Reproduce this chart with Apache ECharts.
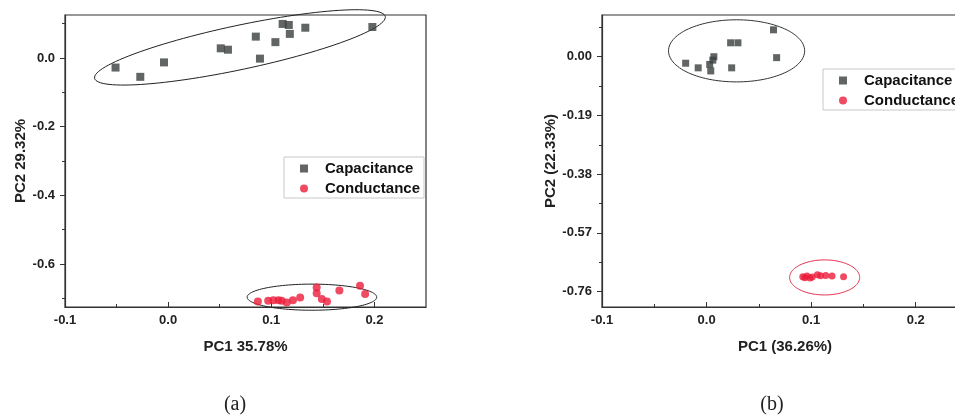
<!DOCTYPE html>
<html>
<head>
<meta charset="utf-8">
<script src="https://cdn.jsdelivr.net/npm/echarts@6/dist/echarts.min.js"></script>
<style>
  html, body { margin: 0; padding: 0; background: #fff; }
  #chart { width: 955px; height: 415px; }
</style>
</head>
<body>
<div id="chart"></div>
<script>
// panel (a) - PCA scores
const capAx = [-0.051, -0.027, -0.004, 0.051, 0.058, 0.085, 0.089, 0.104, 0.111, 0.117, 0.118, 0.133, 0.198];
const capAy = [-0.028, -0.055, -0.013, 0.028, 0.024, 0.062, -0.002, 0.046, 0.099, 0.096, 0.070, 0.088, 0.090];
const conAx = [0.087, 0.097, 0.102, 0.107, 0.110, 0.115, 0.121, 0.128, 0.144, 0.144, 0.149, 0.154, 0.166, 0.186, 0.191];
const conAy = [-0.709, -0.707, -0.705, -0.705, -0.707, -0.712, -0.705, -0.697, -0.668, -0.685, -0.702, -0.709, -0.677, -0.663, -0.687];

// panel (b)
const capBx = [-0.020, -0.008, 0.004, 0.003, 0.006, 0.007, 0.024, 0.023, 0.030, 0.064, 0.067];
const capBy = [-0.021, -0.036, -0.046, -0.025, -0.011, 0.000, -0.036, 0.045, 0.045, 0.087, -0.003];
const conBx = [0.092, 0.094, 0.096, 0.099, 0.101, 0.106, 0.109, 0.114, 0.120, 0.131];
const conBy = [-0.712, -0.715, -0.710, -0.716, -0.713, -0.706, -0.709, -0.708, -0.710, -0.712];

// axis ticks
const xTicks = [-0.1, 0.0, 0.1, 0.2];
const xMinor = [-0.05, 0.05, 0.15];
const yTicksA = [-0.6, -0.4, -0.2, 0.0];
const yMinorA = [-0.7, -0.5, -0.3, -0.1, 0.1];
const yTicksB = [-0.76, -0.57, -0.38, -0.19, 0.0];
const yMinorB = [-0.665, -0.475, -0.285, -0.095, 0.095];

// group ellipses: centre x, centre y, half-axis u (x, y), half-axis v (x, y)
const ellCapA = [0.0696, 0.0307, 0.1409, 0.0899, 0.0044, -0.0628];
const ellConA = [0.1394, -0.6964, 0.0628, 0.0, 0.0, 0.038];
const ellCapB = [0.0287, 0.019, 0.0651, 0.0, 0.0, 0.1005];
const ellConB = [0.1129, -0.7143, 0.0335, 0.0, 0.0, 0.0567];

const CAP_COLOR = '#3b3f3f';
const CON_COLOR = '#ec1d3b';
const AXIS_COLOR = '#333';
const FONT = 'Liberation Sans, Arial, sans-serif';

const zip = (xs, ys) => xs.map((x, i) => [x, ys[i]]);

const chart = echarts.init(document.getElementById('chart'));

function ellipseSeries(name, params, xi, yi, color) {
  return {
    name: name,
    type: 'custom',
    xAxisIndex: xi,
    yAxisIndex: yi,
    silent: true,
    clip: false,
    z: 1,
    encode: { x: 0, y: 1 },
    data: [params],
    renderItem: (p, api) => {
      const cx = api.value(0), cy = api.value(1);
      const ux = api.value(2), uy = api.value(3), vx = api.value(4), vy = api.value(5);
      const pts = [];
      for (let i = 0; i < 120; i++) {
        const t = i / 120 * Math.PI * 2;
        pts.push(api.coord([cx + ux * Math.cos(t) + vx * Math.sin(t), cy + uy * Math.cos(t) + vy * Math.sin(t)]));
      }
      return { type: 'polygon', shape: { points: pts }, style: { fill: 'none', stroke: color, lineWidth: 1 } };
    }
  };
}

function mainAxis(grid, min, max, name, nameGap, ticks, decimals, isY) {
  return {
    type: 'value',
    gridIndex: grid,
    position: isY ? 'left' : 'bottom',
    min: min,
    max: max,
    name: name,
    nameLocation: 'middle',
    nameGap: nameGap,
    nameTextStyle: { fontFamily: FONT, fontWeight: 'bold', fontSize: 15, color: '#222' },
    axisLine: { show: true, onZero: false, lineStyle: { color: AXIS_COLOR, width: 1.2 } },
    axisTick: { show: true, inside: !isY, length: 5, customValues: ticks, lineStyle: { color: AXIS_COLOR, width: 1 } },
    axisLabel: {
      customValues: ticks,
      formatter: (v) => v.toFixed(decimals),
      fontFamily: FONT, fontWeight: 'bold', fontSize: 13, color: '#222',
      margin: isY ? 10 : 7
    },
    splitLine: { show: false },
    minorTick: { show: false }
  };
}

function minorAxis(grid, min, max, ticks, isY) {
  return {
    type: 'value',
    gridIndex: grid,
    position: isY ? 'left' : 'bottom',
    offset: 0,
    min: min,
    max: max,
    axisLine: { show: false, onZero: false },
    axisTick: { show: true, inside: !isY, length: 3, customValues: ticks, lineStyle: { color: AXIS_COLOR, width: 1 } },
    axisLabel: { show: false },
    splitLine: { show: false }
  };
}

function legendAt(left, top) {
  return {
    left: left,
    top: top,
    orient: 'vertical',
    data: ['Capacitance', 'Conductance'],
    borderColor: '#c8c8c8',
    borderWidth: 1,
    borderRadius: 0,
    padding: [4, 4, 2, 16],
    itemGap: 5,
    itemWidth: 8,
    itemHeight: 8,
    textStyle: { fontFamily: FONT, fontWeight: 'bold', fontSize: 15, color: '#111', padding: [0, 0, 0, 12] }
  };
}

chart.setOption({
  backgroundColor: '#fff',
  animation: false,
  title: [
    { text: '(a)', left: 230, top: 390, textAlign: 'center',
      textStyle: { fontFamily: 'Liberation Serif, serif', fontWeight: 'normal', fontSize: 20, color: '#222' } },
    { text: '(b)', left: 767, top: 390, textAlign: 'center',
      textStyle: { fontFamily: 'Liberation Serif, serif', fontWeight: 'normal', fontSize: 20, color: '#222' } }
  ],
  grid: [
    { left: 65, top: 15, width: 361, height: 292, show: true, borderColor: AXIS_COLOR, borderWidth: 1.2,
      outerBoundsMode: 'none' },
    { left: 602, top: 15, width: 366, height: 292, show: true, borderColor: AXIS_COLOR, borderWidth: 1.2,
      outerBoundsMode: 'none' }
  ],
  legend: [legendAt(284, 157), legendAt(823, 69)],
  xAxis: [
    mainAxis(0, -0.1, 0.25, 'PC1 35.78%', 32, xTicks, 1, false),
    minorAxis(0, -0.1, 0.25, xMinor, false),
    mainAxis(1, -0.1, 0.25, 'PC1 (36.26%)', 32, xTicks, 1, false),
    minorAxis(1, -0.1, 0.25, xMinor, false)
  ],
  yAxis: [
    mainAxis(0, -0.725, 0.125, 'PC2 29.32%', 37, yTicksA, 1, true),
    minorAxis(0, -0.725, 0.125, yMinorA, true),
    mainAxis(1, -0.81, 0.135, 'PC2 (22.33%)', 44, yTicksB, 2, true),
    minorAxis(1, -0.81, 0.135, yMinorB, true)
  ],
  series: [
    { name: 'Capacitance', type: 'scatter', xAxisIndex: 0, yAxisIndex: 0, symbol: 'rect', symbolSize: 8,
      itemStyle: { color: CAP_COLOR }, data: zip(capAx, capAy), z: 3 },
    { name: 'Conductance', type: 'scatter', xAxisIndex: 0, yAxisIndex: 0, symbol: 'circle', symbolSize: 8,
      itemStyle: { color: CON_COLOR }, data: zip(conAx, conAy), z: 3 },
    { name: 'Capacitance', type: 'scatter', xAxisIndex: 2, yAxisIndex: 2, symbol: 'rect', symbolSize: 7,
      itemStyle: { color: CAP_COLOR }, data: zip(capBx, capBy), z: 3 },
    { name: 'Conductance', type: 'scatter', xAxisIndex: 2, yAxisIndex: 2, symbol: 'circle', symbolSize: 7,
      itemStyle: { color: CON_COLOR }, data: zip(conBx, conBy), z: 3 },
    ellipseSeries('ellCapA', ellCapA, 0, 0, '#222'),
    ellipseSeries('ellConA', ellConA, 0, 0, '#222'),
    ellipseSeries('ellCapB', ellCapB, 2, 2, '#333'),
    ellipseSeries('ellConB', ellConB, 2, 2, '#e3304c')
  ]
});
</script>
</body>
</html>
